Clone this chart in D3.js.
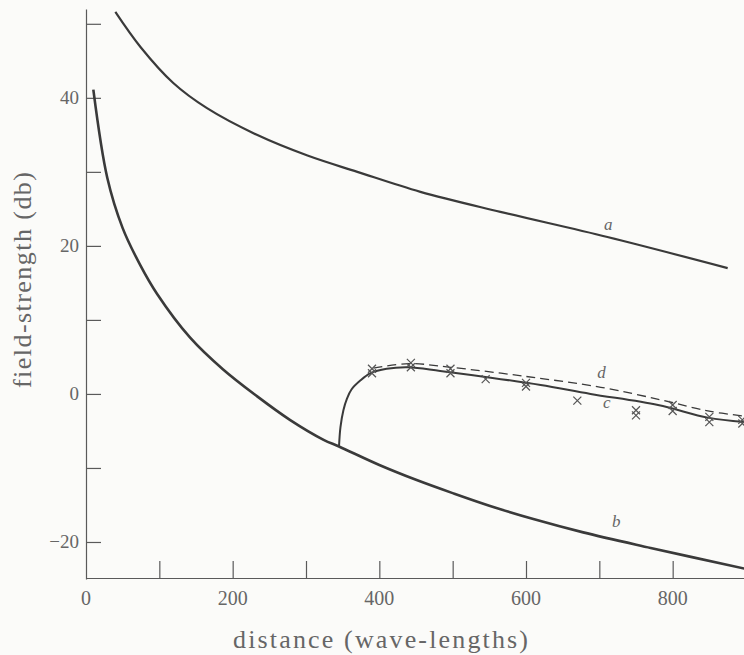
<!DOCTYPE html>
<html>
<head>
<meta charset="utf-8">
<script src="https://cdn.jsdelivr.net/npm/d3@7"></script>
<style>
    body { margin: 0; background: #fbfbf9; }
    svg { display: block; }
</style>
</head>
<body>
<svg id="chart"></svg>
<script>
// tick values
const xTicks = [100, 200, 300, 400, 500, 600, 700, 800];
const xLabels = [0, 200, 400, 600, 800];
const yTicks = [-20, -10, 0, 10, 20, 30, 40, 50];
const yLabels = [-20, 0, 20, 40];

// curve a
const distA = [40, 74, 119, 165, 233, 302, 370, 456, 565, 711, 875];
const fieldA = [51.6, 46.9, 42.0, 38.6, 35.0, 32.2, 30.0, 27.3, 24.6, 21.2, 17.0];

// curve b
const distB = [10, 29, 50, 74, 97, 142, 187, 233, 278, 324, 345, 400, 450, 500, 550, 610, 678, 770, 898];
const fieldB = [41.1, 29.2, 22.4, 17.4, 13.5, 7.6, 3.3, -0.3, -3.5, -6.2, -7.1, -9.6, -11.6, -13.4, -15.1, -16.9, -18.7, -20.8, -23.6];

// curve c
const distC = [345, 347, 351, 356, 362, 374, 388, 410, 440, 483, 552, 620, 688, 780, 848, 898];
const fieldC = [-7.1, -4.5, -2.2, -0.6, 0.6, 1.8, 2.8, 3.4, 3.6, 3.1, 2.2, 1.2, 0.0, -1.5, -3.2, -3.8];

// curve d (dashed)
const distD = [392, 440, 497, 597, 702, 784, 848, 898];
const fieldD = [3.5, 4.1, 3.6, 2.4, 0.9, -0.8, -2.3, -3.0];

// measured points (x marks), two readings at most places
const markDist = [390, 443, 497, 545, 600, 670, 750, 800, 850, 895];
const markUpper = [3.4, 4.2, 3.4, 2.0, 1.5, -0.9, -2.2, -1.5, -3.1, -3.5];
const markLower = [2.8, 3.6, 2.8, null, 1.0, null, -2.9, -2.3, -3.8, -4.0];

const curveLabels = [
    { name: "a", dist: 712, field: 22.2 },
    { name: "b", dist: 723, field: -18.0 },
    { name: "c", dist: 710, field: -1.9 },
    { name: "d", dist: 703, field: 2.2 }
];

class FieldChart {
    width = 744;
    height = 655;

    constructor(svg) {
        this.svg = svg;
    }

    initialize() {
        this.svg = d3.select(this.svg)
            .attr("width", this.width)
            .attr("height", this.height);

        this.x = d3.scaleLinear().domain([0, 900]).range([86, 746]);
        this.y = d3.scaleLinear().domain([-25, 52]).range([579, 9]);

        this.axes = this.svg.append("g");
        this.lines = this.svg.append("g");
        this.marks = this.svg.append("g");
        this.texts = this.svg.append("g");
    }

    draw() {
        let x = this.x, y = this.y;
        let axisColor = "#5a5a5a";
        let textColor = "#666";
        let font = "'Liberation Serif', 'DejaVu Serif', serif";

        this.axes.append("g")
            .attr("transform", `translate(${x(0)}, 0)`)
            .call(d3.axisRight(y).tickValues(yTicks).tickSize(15).tickSizeOuter(0).tickFormat(""));
        this.axes.append("g")
            .attr("transform", `translate(0, ${y(-25) - 1})`)
            .call(d3.axisTop(x).tickValues(xTicks).tickSize(17).tickSizeOuter(0).tickFormat(""));
        this.axes.selectAll("path, line")
            .attr("stroke", axisColor)
            .attr("stroke-width", 1.2);

        this.texts.selectAll("text.xlab")
            .data(xLabels)
            .join("text")
            .attr("class", "xlab")
            .attr("x", d => x(d))
            .attr("y", 605)
            .attr("text-anchor", "middle")
            .attr("font-family", font)
            .attr("font-size", 20)
            .attr("fill", textColor)
            .text(d => d);

        this.texts.selectAll("text.ylab")
            .data(yLabels)
            .join("text")
            .attr("class", "ylab")
            .attr("x", 79)
            .attr("y", d => y(d))
            .attr("dy", "0.33em")
            .attr("text-anchor", "end")
            .attr("font-family", font)
            .attr("font-size", 19)
            .attr("fill", textColor)
            .text(d => d < 0 ? "\u2212" + Math.abs(d) : d);

        this.texts.append("text")
            .attr("x", 233)
            .attr("y", 648)
            .attr("font-family", font)
            .attr("font-size", 26)
            .attr("textLength", 295)
            .attr("lengthAdjust", "spacing")
            .attr("fill", textColor)
            .text("distance (wave-lengths)");

        this.texts.append("text")
            .attr("transform", "translate(31, 388) rotate(-90)")
            .attr("font-family", font)
            .attr("font-size", 26)
            .attr("textLength", 216)
            .attr("lengthAdjust", "spacing")
            .attr("fill", textColor)
            .text("field-strength (db)");

        let line = d3.line()
            .x(d => x(d[0]))
            .y(d => y(d[1]))
            .curve(d3.curveCatmullRom.alpha(0.5));

        let series = [
            { pts: d3.zip(distA, fieldA), width: 2.2, dash: null },
            { pts: d3.zip(distB, fieldB), width: 2.6, dash: null },
            { pts: d3.zip(distC, fieldC), width: 2.0, dash: null },
            { pts: d3.zip(distD, fieldD), width: 1.3, dash: "9,5" }
        ];

        this.lines.selectAll("path")
            .data(series)
            .join("path")
            .attr("d", d => line(d.pts))
            .attr("fill", "none")
            .attr("stroke", "#3a3a3a")
            .attr("stroke-width", d => d.width)
            .attr("stroke-dasharray", d => d.dash);

        let pts = [];
        markDist.forEach((d, i) => {
            pts.push([d, markUpper[i]]);
            if (markLower[i] != null) pts.push([d, markLower[i]]);
        });
        let r = 4;
        this.marks.selectAll("path")
            .data(pts)
            .join("path")
            .attr("d", d => {
                let cx = x(d[0]), cy = y(d[1]);
                return `M${cx - r},${cy - r}L${cx + r},${cy + r}M${cx - r},${cy + r}L${cx + r},${cy - r}`;
            })
            .attr("stroke", "#555")
            .attr("stroke-width", 1.2)
            .attr("fill", "none");

        this.texts.selectAll("text.clab")
            .data(curveLabels)
            .join("text")
            .attr("class", "clab")
            .attr("x", d => x(d.dist))
            .attr("y", d => y(d.field))
            .attr("text-anchor", "middle")
            .attr("font-family", font)
            .attr("font-style", "italic")
            .attr("font-size", 17)
            .attr("fill", "#666")
            .text(d => d.name);
    }
}

let chart = new FieldChart("#chart");
chart.initialize();
chart.draw();
</script>
</body>
</html>
